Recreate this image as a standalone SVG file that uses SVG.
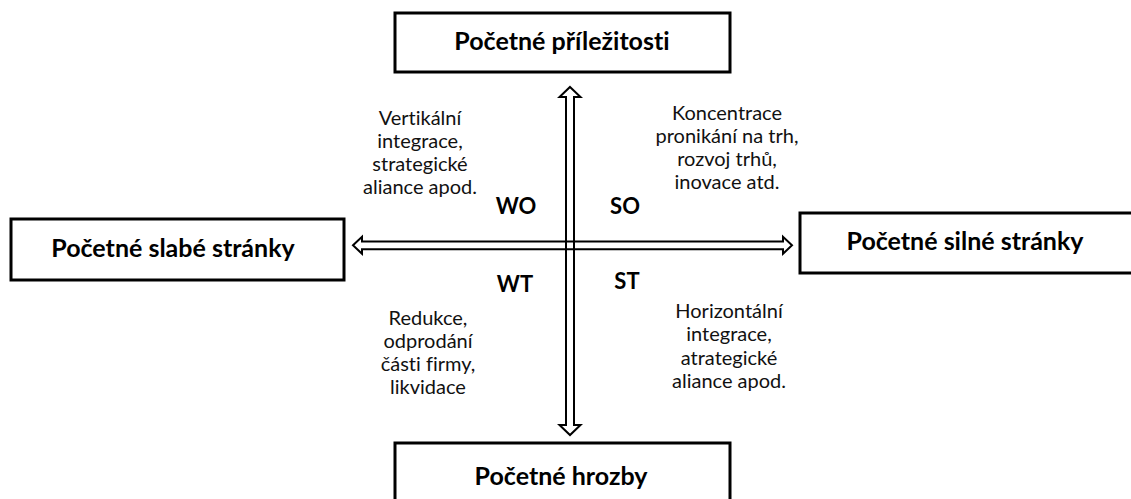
<svg xmlns="http://www.w3.org/2000/svg" width="1131" height="499" viewBox="0 0 1131 499">
  <style>
    text { font-variant-ligatures: none; font-family: Lato, "Liberation Sans", sans-serif; fill: #000; text-anchor: middle; }
    .box { fill: #fff; stroke: #000; stroke-width: 3; }
    .title { font-weight: bold; font-size: 25px; }
    .code { font-weight: bold; font-size: 22px; }
    .note { font-size: 20px; fill: #111; }
    .arrow { fill: none; stroke: #000; stroke-width: 2; stroke-linejoin: miter; }
  </style>
  <rect width="1131" height="499" fill="#fff"/>

  <!-- connectors: hollow double-headed block arrows -->
  <g id="connectors">
    <path class="arrow" d="M570,87 L580.5,97 L574,97 L574,425 L580.5,425 L570,435 L559.5,425 L566,425 L566,97 L559.5,97 Z"/>
    <path class="arrow" d="M353,245.3 L362,236.8 L362,241.5 L783,241.5 L783,236.8 L792,245.3 L783,253.8 L783,249.2 L362,249.2 L362,253.8 Z"/>
  </g>

  <g id="node-opportunities">
    <rect class="box" x="395" y="13" width="335" height="59"/>
    <text class="title" x="562" y="50">Početné příležitosti</text>
  </g>
  <g id="node-weaknesses">
    <rect class="box" x="11" y="219" width="333" height="61"/>
    <text class="title" x="173" y="257">Početné slabé stránky</text>
  </g>
  <g id="node-strengths">
    <rect class="box" x="800" y="213" width="335" height="60"/>
    <text class="title" x="965" y="250">Početné silné stránky</text>
  </g>
  <g id="node-threats">
    <rect class="box" x="395" y="443" width="335" height="62"/>
    <text class="title" x="561" y="485">Početné hrozby</text>
  </g>

  <!-- quadrant labels -->
  <g id="quadrant-wo">
    <text class="code" x="516" y="214">WO</text>
    <text class="note" x="420" y="125">Vertikální</text>
    <text class="note" x="420" y="148">integrace,</text>
    <text class="note" x="420" y="171">strategické</text>
    <text class="note" x="420" y="194">aliance apod.</text>
  </g>
  <g id="quadrant-so">
    <text class="code" x="625" y="214">SO</text>
    <text class="note" x="727" y="120">Koncentrace</text>
    <text class="note" x="727" y="143">pronikání na trh,</text>
    <text class="note" x="727" y="166">rozvoj trhů,</text>
    <text class="note" x="727" y="189">inovace atd.</text>
  </g>
  <g id="quadrant-wt">
    <text class="code" x="515" y="292">WT</text>
    <text class="note" x="428" y="325">Redukce,</text>
    <text class="note" x="428" y="348">odprodání</text>
    <text class="note" x="428" y="371">části firmy,</text>
    <text class="note" x="428" y="394">likvidace</text>
  </g>
  <g id="quadrant-st">
    <text class="code" x="627" y="289">ST</text>
    <text class="note" x="729" y="318">Horizontální</text>
    <text class="note" x="729" y="341">integrace,</text>
    <text class="note" x="729" y="365">atrategické</text>
    <text class="note" x="729" y="388">aliance apod.</text>
  </g>
</svg>
